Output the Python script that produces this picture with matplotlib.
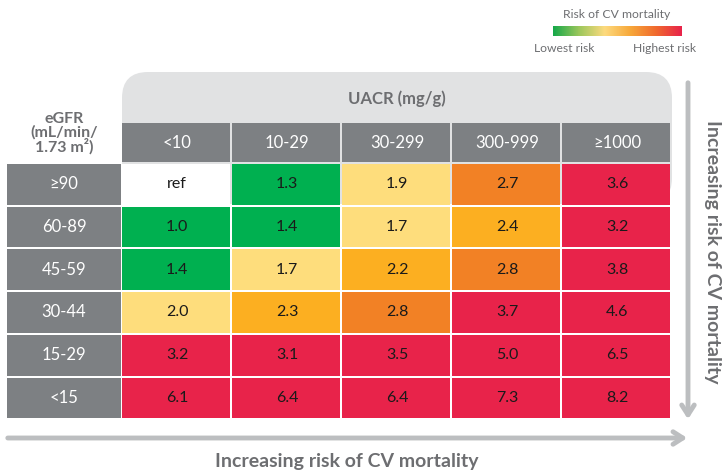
import matplotlib.pyplot as plt
import numpy as np
from matplotlib.patches import Rectangle, FancyBboxPatch
from matplotlib.colors import LinearSegmentedColormap

plt.rcParams['font.family'] = ['Lato', 'DejaVu Sans']

# data
egfr_labels = ['≥90', '60-89', '45-59', '30-44', '15-29', '<15']
uacr_labels = ['<10', '10-29', '30-299', '300-999', '≥1000']
hr = [['ref', '1.3', '1.9', '2.7', '3.6'],
      ['1.0', '1.4', '1.7', '2.4', '3.2'],
      ['1.4', '1.7', '2.2', '2.8', '3.8'],
      ['2.0', '2.3', '2.8', '3.7', '4.6'],
      ['3.2', '3.1', '3.5', '5.0', '6.5'],
      ['6.1', '6.4', '6.4', '7.3', '8.2']]
# risk level: 0 ref, 1 green, 2 light yellow, 3 amber, 4 orange, 5 red
risk = [[0, 1, 2, 4, 5],
        [1, 1, 2, 3, 5],
        [1, 2, 3, 4, 5],
        [2, 3, 4, 5, 5],
        [5, 5, 5, 5, 5],
        [5, 5, 5, 5, 5]]
level_colors = ['#ffffff', '#00b050', '#fedd7c', '#fcaf21', '#f28125', '#e8234a']

grey_cell = '#7d8083'
head_grey = '#e1e2e3'
arrow_grey = '#bcbec0'
text_grey = '#6d6e71'

fig = plt.figure(figsize=(7.26, 4.72), dpi=100)
ax = fig.add_axes([0, 0, 1, 1])
ax.set_xlim(0, 726)
ax.set_ylim(472, 0)
ax.axis('off')

# layout
x0, cw = 122, 110
lab_x0, lab_w = 7, 114
y0, rh = 164, 42.7
gap = 2

# UACR rounded header
ax.add_patch(FancyBboxPatch((x0 + 26, 72 + 26), 5 * cw - 52, 80,
                            boxstyle='round,pad=26', fc=head_grey, ec='none'))
ax.text(x0 + 5 * cw / 2, 99, 'UACR (mg/g)', ha='center', va='center',
        fontsize=12, fontweight='bold', color=text_grey)

# column header bar
for j, lab in enumerate(uacr_labels):
    ax.add_patch(Rectangle((x0 + j * cw, 123), cw - gap, 39, fc=grey_cell, ec='none'))
    ax.text(x0 + j * cw + cw / 2, 143, lab, ha='center', va='center',
            fontsize=12, color='white')

ax.text(lab_x0 + lab_w / 2, 133, 'eGFR\n(mL/min/\n1.73 m²)', ha='center', va='center',
        fontsize=11.5, fontweight='bold', color=text_grey, linespacing=0.92)

# rows
for i, lab in enumerate(egfr_labels):
    y = y0 + i * rh
    ax.add_patch(Rectangle((lab_x0, y), lab_w, rh - gap, fc=grey_cell, ec='none'))
    ax.text(lab_x0 + lab_w / 2, y + rh / 2 - 1, lab, ha='center', va='center',
            fontsize=12, color='white')
    for j in range(len(uacr_labels)):
        ax.add_patch(Rectangle((x0 + j * cw, y), cw - gap, rh - gap,
                               fc=level_colors[risk[i][j]], ec='none'))
        ax.text(x0 + j * cw + cw / 2, y + rh / 2 - 1, hr[i][j], ha='center',
                va='center', fontsize=11.5, color='#1a1a1a')

# arrows
ax.annotate('', xy=(690, 438), xytext=(5, 438),
            arrowprops=dict(arrowstyle='->,head_length=0.7,head_width=0.45',
                            lw=3.5, color=arrow_grey))
ax.annotate('', xy=(688, 422), xytext=(688, 80),
            arrowprops=dict(arrowstyle='->,head_length=0.7,head_width=0.45',
                            lw=3.5, color=arrow_grey))
ax.text(347, 462, 'Increasing risk of CV mortality', ha='center', va='center',
        fontsize=14, fontweight='bold', color=text_grey)
ax.text(713, 252, 'Increasing risk of CV mortality', ha='center', va='center',
        rotation=-90, fontsize=14, fontweight='bold', color=text_grey)

# legend
grad = LinearSegmentedColormap.from_list(
    'risk', ['#17a84a', '#9cc75c', '#fdda7e', '#f7a83a', '#f06a2e', '#e8234a'])
ax.imshow(np.linspace(0, 1, 200).reshape(1, -1), cmap=grad, aspect='auto',
          extent=(553, 682, 36, 26), zorder=2)
ax.set_xlim(0, 726)
ax.set_ylim(472, 0)
ax.text(617, 15, 'Risk of CV mortality', ha='center', va='center',
        fontsize=8.7, color=text_grey)
ax.text(564, 48, 'Lowest risk', ha='center', va='center', fontsize=8.7, color=text_grey)
ax.text(665, 48, 'Highest risk', ha='center', va='center', fontsize=8.7, color=text_grey)

fig.savefig('out.png', dpi=100)
